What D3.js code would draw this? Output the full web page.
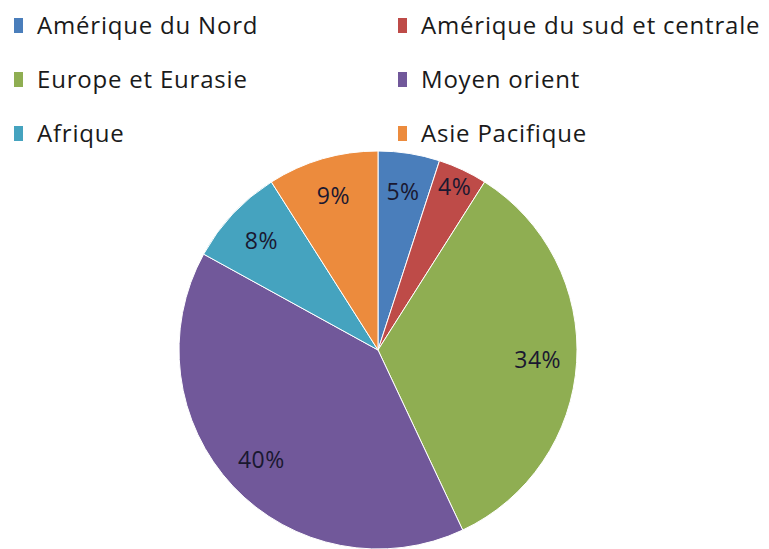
<!DOCTYPE html>
<html>
<head>
    <meta charset="utf-8">
    <script src="https://cdnjs.cloudflare.com/ajax/libs/d3/7.8.5/d3.min.js"></script>
    <style>
        body { margin: 0; background: #fff; font-family: 'Open Sans', sans-serif; }
    </style>
</head>
<body>
    <div id="chart"></div>
<script>
// data, clockwise from 12 o'clock
var regions = ["Amérique du Nord", "Amérique du sud et centrale", "Europe et Eurasie",
               "Moyen orient", "Afrique", "Asie Pacifique"];
var shares = [5, 4, 34, 40, 8, 9];
var colours = ["#4a7ebb", "#be4b48", "#8fae52", "#71589a", "#45a3bf", "#ec8b3d"];

var width = 769, height = 549;
var cx = 378, cy = 350, radius = 199;

var svg = d3.select("#chart")
  .append("svg")
    .attr("width", width)
    .attr("height", height);

var data = regions.map(function (r, i) { return {name: r, value: shares[i]}; });

var colour = d3.scaleOrdinal().domain(regions).range(colours);

var pie = d3.pie()
    .sort(null)
    .value(function (d) { return d.value; });

var arc = d3.arc().innerRadius(0).outerRadius(radius);
var labelArc = d3.arc().innerRadius(160).outerRadius(160);
var smallLabelArc = d3.arc().innerRadius(180).outerRadius(180);

var g = svg.append("g")
    .attr("transform", "translate(" + cx + "," + cy + ")");

var slices = pie(data);

g.selectAll("path")
  .data(slices)
  .enter()
  .append("path")
    .attr("d", arc)
    .attr("fill", function (d) { return colour(d.data.name); })
    .attr("stroke", "#fff")
    .attr("stroke-width", 1);

g.selectAll("text")
  .data(slices)
  .enter()
  .append("text")
    .attr("transform", function (d) {
        var a = d.data.value < 5 ? smallLabelArc : labelArc;
        return "translate(" + a.centroid(d) + ")";
    })
    .attr("text-anchor", "middle")
    .attr("dy", "0.35em")
    .style("font-size", "23px")
    .style("letter-spacing", "0.5px")
    .style("fill", "#1a1830")
    .text(function (d) { return d.data.value + "%"; });

// legend, two columns
var legend = svg.append("g")
  .selectAll("g")
  .data(regions)
  .enter()
  .append("g")
    .attr("transform", function (d, i) {
        return "translate(" + (i % 2 ? 398 : 14) + "," + (26 + Math.floor(i / 2) * 54) + ")";
    });

legend.append("rect")
    .attr("x", 0)
    .attr("y", -8)
    .attr("width", 9)
    .attr("height", 15)
    .attr("fill", function (d) { return colour(d); });

legend.append("text")
    .attr("x", 23)
    .attr("dy", "0.35em")
    .style("font-size", "24px")
    .style("letter-spacing", "0.8px")
    .style("fill", "#1a1a1a")
    .text(function (d) { return d; });
</script>
</body>
</html>
